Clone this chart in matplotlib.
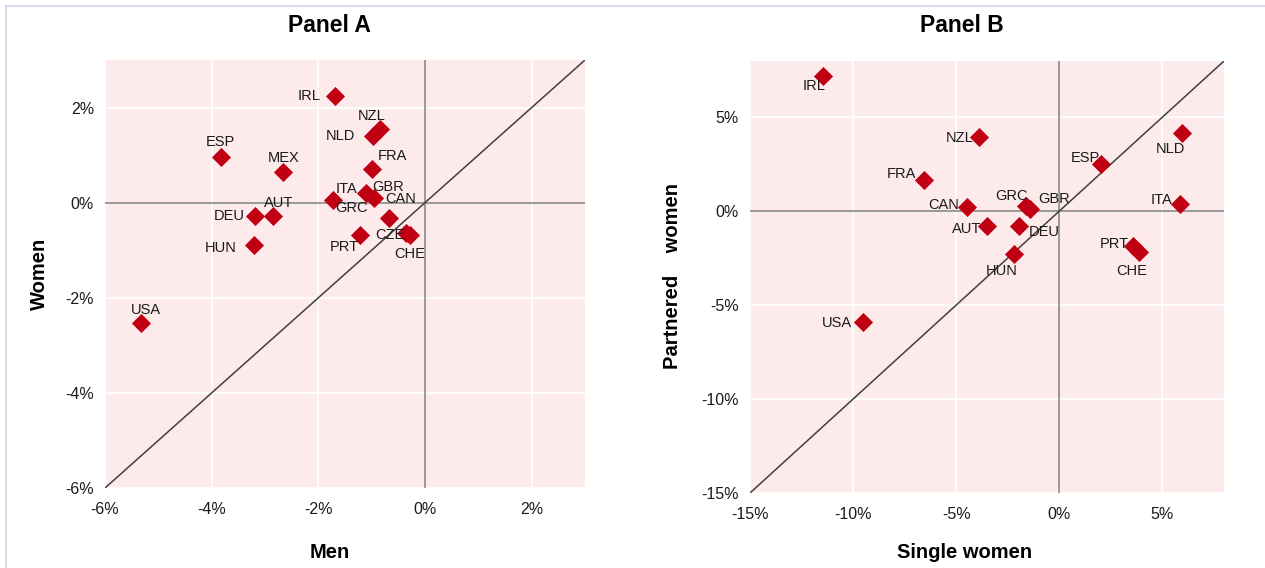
import matplotlib
matplotlib.use('Agg')
import matplotlib.pyplot as plt
from matplotlib.lines import Line2D
from matplotlib.ticker import FuncFormatter

# Panel A: change for men (x) vs women (y), in %
paises_a = ['IRL', 'NZL', 'NLD', 'ESP', 'MEX', 'FRA', 'ITA', 'GBR', 'GRC', 'CAN',
            'DEU', 'AUT', 'HUN', 'PRT', 'CZE', 'CHE', 'USA']
homens = [-1.69, -0.84, -0.98, -3.83, -2.66, -0.99, -1.11, -0.95, -1.73, -0.68,
          -3.19, -2.85, -3.21, -1.22, -0.36, -0.28, -5.33]
mulheres = [2.25, 1.55, 1.41, 0.95, 0.65, 0.71, 0.20, 0.10, 0.06, -0.32,
            -0.27, -0.27, -0.90, -0.67, -0.63, -0.67, -2.52]

# Panel B: single women (x) vs partnered women (y), in %
paises_b = ['IRL', 'NZL', 'FRA', 'CAN', 'ESP', 'NLD', 'ITA', 'GRC', 'GBR', 'AUT',
            'DEU', 'HUN', 'PRT', 'CHE', 'USA']
solteiras = [-11.46, -3.90, -6.54, -4.47, 2.01, 5.98, 5.88, -1.59, -1.42, -3.48,
             -1.95, -2.21, 3.57, 3.86, -9.51]
casadas = [7.22, 3.96, 1.67, 0.22, 2.54, 4.16, 0.38, 0.29, 0.14, -0.76,
           -0.76, -2.29, -1.84, -2.16, -5.90]

ticks_a = [-6, -4, -2, 0, 2]
ticks_b = [-15, -10, -5, 0, 5]

# deslocamento dos rótulos (pixels, relativo ao marcador)
offs_a = {'IRL': (-26, 0), 'NZL': (-9, 13), 'NLD': (-32, 0), 'ESP': (0, 15),
          'MEX': (0, 14), 'FRA': (20, 13), 'ITA': (-19, 4), 'GBR': (14, 11),
          'GRC': (19, -8), 'CAN': (12, 19), 'DEU': (-26, 0), 'AUT': (6, 13),
          'HUN': (-33, -3), 'PRT': (-16, -12), 'CZE': (-16, -2), 'CHE': (0, -19),
          'USA': (5, 13)}
offs_b = {'IRL': (-9, -10), 'NZL': (-19, -1), 'FRA': (-23, 6), 'CAN': (-23, 2),
          'ESP': (-15, 6), 'NLD': (-12, -16), 'ITA': (-19, 4), 'GRC': (-15, 10),
          'GBR': (24, 10), 'AUT': (-21, -3), 'DEU': (25, -6), 'HUN': (-12, -17),
          'PRT': (-18, 2), 'CHE': (-7, -19), 'USA': (-26, -1)}

plt.rcParams['font.family'] = ['Liberation Sans', 'DejaVu Sans']

fig = plt.figure(figsize=(12.65, 5.68), dpi=100)
fig.patch.set_facecolor('white')

ax_a = fig.add_axes([105 / 1265, 1 - 488 / 568, 480 / 1265, 428 / 568])
ax_b = fig.add_axes([750 / 1265, 1 - 493 / 568, 474 / 1265, 432 / 568])


def desenhar(ax, xs, ys, nomes, offs, lim, ticks):
    ax.set_facecolor('#FDEAEA')
    ax.set_xlim(lim)
    ax.set_ylim(lim)
    ax.set_xticks(ticks)
    ax.set_yticks(ticks)
    ax.grid(True, color='white', linewidth=1.2)
    ax.set_axisbelow(True)
    for s in ax.spines.values():
        s.set_visible(False)
    ax.tick_params(length=0, labelsize=11.5, colors='#1a1a1a')
    ax.tick_params(axis='x', pad=10)
    ax.tick_params(axis='y', pad=8)
    ax.xaxis.set_major_formatter(FuncFormatter(lambda v, p: f'{v:.0f}%'))
    ax.yaxis.set_major_formatter(FuncFormatter(lambda v, p: f'{v:.0f}%'))
    ax.axhline(0, color='#7f7f7f', linewidth=1.1, zorder=2)
    ax.axvline(0, color='#7f7f7f', linewidth=1.1, zorder=2)
    ax.plot(lim, lim, color='#404040', linewidth=1.1, zorder=2)
    ax.scatter(xs, ys, marker='D', s=95, color='#C00012', zorder=3, linewidths=0)
    for x, y, n in zip(xs, ys, nomes):
        ax.annotate(n, (x, y), xytext=offs[n], textcoords='offset pixels',
                    ha='center', va='center', fontsize=10.5, color='#1a1a1a', zorder=4)


desenhar(ax_a, homens, mulheres, paises_a, offs_a, (-6, 3), ticks_a)
desenhar(ax_b, solteiras, casadas, paises_b, offs_b, (-15, 8), ticks_b)

# títulos e rótulos dos eixos
fig.text(329 / 1265, 1 - 26 / 568, 'Panel A', ha='center', va='center',
         fontsize=16.5, fontweight='bold')
fig.text(962 / 1265, 1 - 26 / 568, 'Panel B', ha='center', va='center',
         fontsize=16.5, fontweight='bold')
fig.text(330 / 1265, 1 - 553 / 568, 'Men', ha='center', va='center',
         fontsize=14.5, fontweight='bold')
fig.text(965 / 1265, 1 - 553 / 568, 'Single women', ha='center', va='center',
         fontsize=14.5, fontweight='bold')
fig.text(39 / 1265, 1 - 274 / 568, 'Women', ha='center', va='center',
         rotation=90, fontsize=14.5, fontweight='bold')
fig.text(673 / 1265, 1 - 276 / 568, 'Partnered    women', ha='center', va='center',
         rotation=90, fontsize=14.5, fontweight='bold')

# moldura fina (topo e esquerda)
fig.add_artist(Line2D([6 / 1265, 1], [1 - 6 / 568, 1 - 6 / 568],
                      color='#D5DCEA', linewidth=1.5, transform=fig.transFigure))
fig.add_artist(Line2D([6 / 1265, 6 / 1265], [0, 1 - 6 / 568],
                      color='#D5DCEA', linewidth=1.5, transform=fig.transFigure))

fig.savefig('out.png', dpi=100)
plt.close()
